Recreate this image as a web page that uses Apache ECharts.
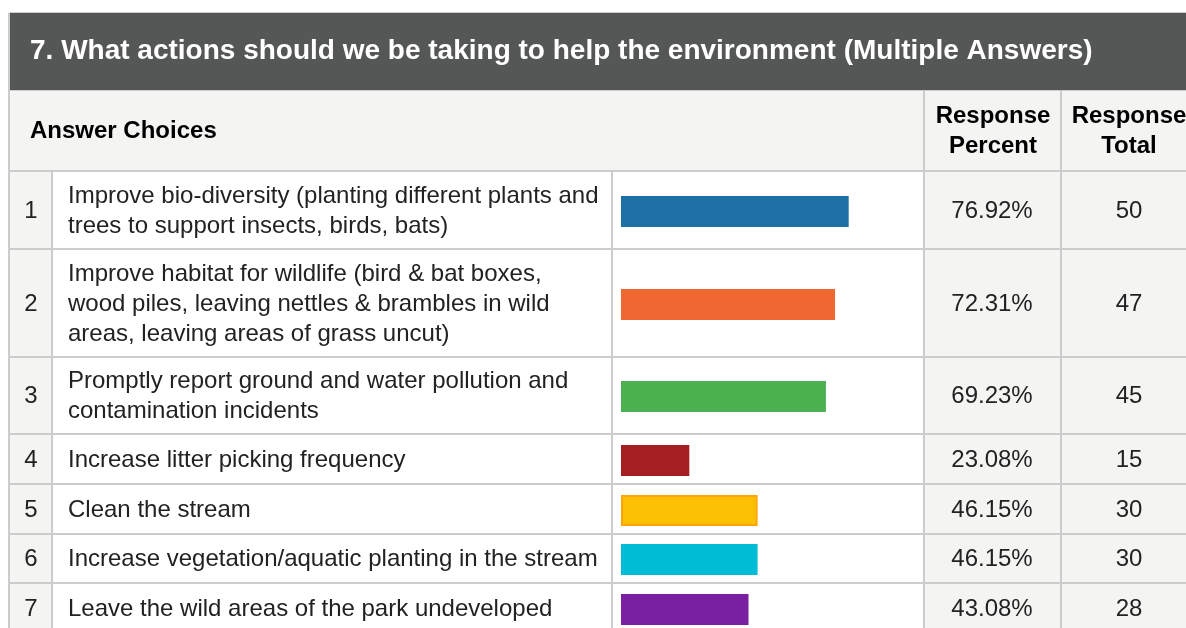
<!DOCTYPE html>
<html>
<head>
<meta charset="utf-8">
<script src="https://cdn.jsdelivr.net/npm/echarts@6/dist/echarts.min.js"></script>
<style>
  html, body { margin: 0; padding: 0; background: #ffffff; }
  #chart { width: 1186px; height: 628px; }
</style>
</head>
<body>
<div id="chart"></div>
<script>
// ---- data ----
const title = '7. What actions should we be taking to help the environment (Multiple Answers)';
const columnHeaders = ['Answer Choices', 'Response\nPercent', 'Response\nTotal'];
const numbers = ['1', '2', '3', '4', '5', '6', '7'];
const answers = [
  'Improve bio-diversity (planting different plants and\ntrees to support insects, birds, bats)',
  'Improve habitat for wildlife (bird & bat boxes,\nwood piles, leaving nettles & brambles in wild\nareas, leaving areas of grass uncut)',
  'Promptly report ground and water pollution and\ncontamination incidents',
  'Increase litter picking frequency',
  'Clean the stream',
  'Increase vegetation/aquatic planting in the stream',
  'Leave the wild areas of the park undeveloped'
];
const percents = [76.92, 72.31, 69.23, 23.08, 46.15, 46.15, 43.08];
const totals = [50, 47, 45, 15, 30, 30, 28];

// ---- styles / layout ----
const barColors = ['#1d6fa5', '#f06732', '#4caf50', '#a51e22', '#fec005', '#00bcd4', '#7b1fa2'];
const barBorders = [null, null, null, null, '#ffa500', null, null];
const rowHeights = [78, 108, 77, 50, 50, 49, 50];
const W = 1186;
const FONT = '"Liberation Sans", Arial, sans-serif';
const LINE = '#cccccc';
const GREY_BG = '#f4f4f3';
const xLeft = 9, xNum = 52, xBar = 611, xPct = 923, xTot = 1060;
const headTop = 13, headBot = 90, colHeadBot = 171;
const barLeft = 621, barFull = 296, barH = 31;

const graphics = [];
function rect(x, y, w, h, fill, z) {
  graphics.push({ type: 'rect', silent: true, z: z || 0, shape: { x, y, width: w, height: h }, style: { fill } });
}
function text(str, x, y, font, fill, align) {
  graphics.push({ type: 'text', silent: true, z: 5, x, y,
    style: { text: str, font, fill, textAlign: align, align: align, textVerticalAlign: 'middle', verticalAlign: 'middle', lineHeight: 30 } });
}

// row tops
const rowTops = [];
let yCur = colHeadBot;
rowHeights.forEach(h => { rowTops.push(yCur); yCur += h; });
const bodyBottom = yCur;

// backgrounds
rect(xLeft, headTop, W - xLeft, headBot - headTop, '#555756', 0);
rect(xLeft, headBot, W - xLeft, colHeadBot - headBot, GREY_BG, 0);
rect(xLeft, colHeadBot, xNum - xLeft, bodyBottom - colHeadBot, GREY_BG, 0);
rect(xPct, colHeadBot, W - xPct, bodyBottom - colHeadBot, GREY_BG, 0);

// lines
rect(xLeft, headTop - 1, W - xLeft, 1, LINE, 1);
rect(xLeft - 1, headTop, 2, bodyBottom - headTop, LINE, 1);
rect(xLeft, headBot, W - xLeft, 1, LINE, 1);
rect(xLeft, colHeadBot - 1, W - xLeft, 2, LINE, 1);
rect(xPct, headBot, 2, bodyBottom - headBot, LINE, 1);
rect(xTot, headBot, 2, bodyBottom - headBot, LINE, 1);
rect(xNum - 1, colHeadBot, 2, bodyBottom - colHeadBot, LINE, 1);
rect(xBar, colHeadBot, 2, bodyBottom - colHeadBot, LINE, 1);
rowTops.forEach((t, i) => { if (i > 0) rect(xLeft, t - 1, W - xLeft, 2, LINE, 1); });

// header texts
text(title, 30, 51, 'bold 28px ' + FONT, '#ffffff', 'left');
text(columnHeaders[0], 30, 131, 'bold 24px ' + FONT, '#000000', 'left');
text(columnHeaders[1], 993, 131, 'bold 24px ' + FONT, '#000000', 'center');
text(columnHeaders[2], 1129, 131, 'bold 24px ' + FONT, '#000000', 'center');

// row texts
const grids = [], xAxes = [], yAxes = [], series = [];
numbers.forEach((n, i) => {
  const cy = rowTops[i] + rowHeights[i] / 2 + 1;
  text(n, 31, cy, '24px ' + FONT, '#222222', 'center');
  text(answers[i], 68, cy, '24px ' + FONT, '#222222', 'left');
  text(percents[i].toFixed(2) + '%', 992, cy, '24px ' + FONT, '#222222', 'center');
  text(String(totals[i]), 1129, cy, '24px ' + FONT, '#222222', 'center');

  grids.push({ left: barLeft, width: barFull, top: Math.round(cy - barH / 2), height: barH, containLabel: false });
  xAxes.push({ type: 'value', gridIndex: i, min: 0, max: 100, show: false });
  yAxes.push({ type: 'category', gridIndex: i, data: [numbers[i]], show: false });
  const itemStyle = { color: barColors[i] };
  if (barBorders[i]) { itemStyle.borderColor = barBorders[i]; itemStyle.borderWidth = 2; }
  series.push({ type: 'bar', xAxisIndex: i, yAxisIndex: i, data: [percents[i]], barWidth: barH,
    itemStyle, silent: true, animation: false, z: 3 });
});

const chart = echarts.init(document.getElementById('chart'), null, { renderer: 'canvas' });
chart.setOption({
  animation: false,
  backgroundColor: '#ffffff',
  grid: grids,
  xAxis: xAxes,
  yAxis: yAxes,
  series: series,
  graphic: { elements: graphics }
});
</script>
</body>
</html>
